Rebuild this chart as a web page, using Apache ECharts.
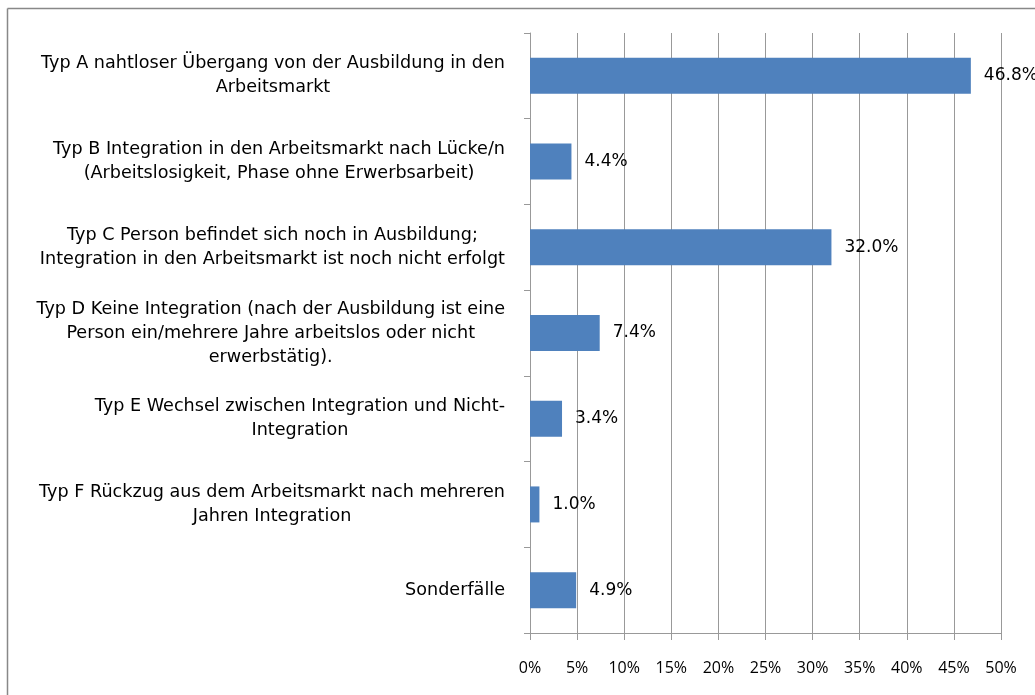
<!DOCTYPE html>
<html>
<head>
<meta charset="utf-8">
<script src="https://cdn.jsdelivr.net/npm/echarts@6/dist/echarts.min.js"></script>
<style>
	html, body { margin: 0; padding: 0; background: #fff; }
	#chart { width: 1035px; height: 695px; }
</style>
</head>
<body>
<div id="chart"></div>
<script>
	// Kategorien (Zeilenumbrüche wie im Original)
	var categories = [
		'Typ A nahtloser Übergang von der Ausbildung in den\nArbeitsmarkt',
		'Typ B Integration in den Arbeitsmarkt nach Lücke/n\n(Arbeitslosigkeit, Phase ohne Erwerbsarbeit)',
		'Typ C Person befindet sich noch in Ausbildung;\nIntegration in den Arbeitsmarkt ist noch nicht erfolgt',
		'Typ D Keine Integration (nach der Ausbildung ist eine\nPerson ein/mehrere Jahre arbeitslos oder nicht\nerwerbstätig).',
		'Typ E Wechsel zwischen Integration und Nicht-\nIntegration',
		'Typ F Rückzug aus dem Arbeitsmarkt nach mehreren\nJahren Integration',
		'Sonderfälle'
	];
	var values = [46.8, 4.4, 32.0, 7.4, 3.4, 1.0, 4.9];
	var xMin = 0;
	var xMax = 50;
	var xStep = 5;

	var font = 'Open Sans';
	var catFont = 'DejaVu Sans';
	var myChart = echarts.init(document.getElementById('chart'));

	var option = {
		animation: false,
		backgroundColor: '#fff',
		textStyle: { fontFamily: font },
		grid: { left: 530, right: 34, top: 33, bottom: 62 },
		xAxis: {
			type: 'value',
			min: xMin,
			max: xMax,
			interval: xStep,
			axisLine: { show: true, lineStyle: { color: '#999' } },
			axisTick: { show: true, length: 7, lineStyle: { color: '#999' } },
			splitLine: { show: true, lineStyle: { color: '#999' } },
			axisLabel: {
				margin: 27,
				color: '#000',
				fontSize: 16,
				fontFamily: font,
				formatter: '{value}%'
			}
		},
		yAxis: {
			type: 'category',
			inverse: true,
			data: categories,
			axisLine: { show: true, lineStyle: { color: '#999' } },
			axisTick: { show: true, length: 6, lineStyle: { color: '#999' } },
			axisLabel: {
				margin: 25,
				color: '#000',
				align: 'right',
				formatter: function(v) {
					return v.split('\n').map(function(l) { return '{c|' + l + '}'; }).join('\n');
				},
				rich: {
					c: { align: 'center', fontSize: 17.6, lineHeight: 24, fontFamily: catFont, color: '#000' }
				}
			}
		},
		series: [{
			type: 'bar',
			data: values,
			barWidth: 36,
			itemStyle: { color: '#4f81bd' },
			label: {
				show: true,
				position: 'right',
				distance: 13,
				color: '#000',
				fontSize: 17,
				fontFamily: catFont,
				formatter: function(p) { return p.value.toFixed(1) + '%'; }
			}
		}],
		graphic: [
			{ type: 'line', shape: { x1: 7.5, y1: 8.5, x2: 1035, y2: 8.5 }, style: { stroke: '#888', lineWidth: 1.5 } },
			{ type: 'line', shape: { x1: 7.5, y1: 8.5, x2: 7.5, y2: 695 }, style: { stroke: '#888', lineWidth: 1.5 } }
		]
	};

	myChart.setOption(option);
</script>
</body>
</html>
